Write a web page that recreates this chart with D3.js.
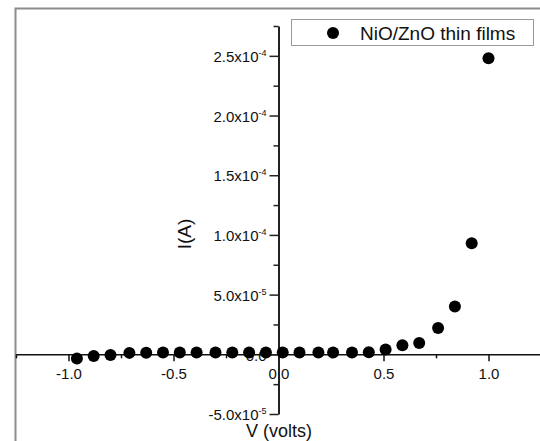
<!DOCTYPE html>
<html>
<head>
<meta charset="utf-8">
<script src="https://cdn.jsdelivr.net/npm/d3@7"></script>
<style>
  body { margin: 0; background: #fff; }
  svg { display: block; font-family: "Liberation Sans", Arial, sans-serif; }
</style>
</head>
<body>
<div id="chart"></div>
<script>
// I-V data
var voltage = [-0.96, -0.88, -0.80, -0.71, -0.63, -0.55, -0.47, -0.39, -0.30, -0.22, -0.14, -0.06,
               0.02, 0.10, 0.19, 0.26, 0.35, 0.43, 0.51, 0.59, 0.67, 0.76, 0.84, 0.92, 1.00];
var current = [-3.5e-6, -1.5e-6, -0.5e-6, 1.2e-6, 1.4e-6, 1.5e-6, 1.5e-6, 1.5e-6, 1.5e-6, 1.5e-6, 1.5e-6, 1.5e-6,
               1.5e-6, 1.5e-6, 1.5e-6, 1.5e-6, 1.5e-6, 1.8e-6, 4.0e-6, 7.5e-6, 9.5e-6, 2.2e-5, 4.0e-5, 9.3e-5, 2.48e-4];

var xTicks = [-1, -0.5, 0, 0.5, 1];
var xTickLabels = ["-1.0", "-0.5", "0.0", "0.5", "1.0"];
var yTicks = [-5e-5, 0, 5e-5, 1e-4, 1.5e-4, 2e-4, 2.5e-4];
var yTickMantissa = ["-5.0", "0.0", "5.0", "1.0", "1.5", "2.0", "2.5"];
var yTickExponent = ["-5", "", "-5", "-4", "-4", "-4", "-4"];
var seriesName = "NiO/ZnO thin films";

var width = 540, height = 441;

var x = d3.scaleLinear().domain([-1.25, 1.25]).range([16, 541]);
var y = d3.scaleLinear().domain([-5e-5, 2.75e-4]).range([414, 26]);

var svg = d3.select('#chart').append('svg')
    .attr('width', width)
    .attr('height', height);

// layer frame
svg.append('rect')
    .attr('x', 15.5).attr('y', 8.5)
    .attr('width', 600).attr('height', 600)
    .attr('fill', 'none')
    .attr('stroke', '#8c8c8c')
    .attr('stroke-width', 2);

// x axis through y = 0
var xMinor = d3.range(-1.25, 1.26, 0.25).filter(function(d) {
  return Math.abs(d * 2 - Math.round(d * 2)) > 1e-6;
});

var xAxisG = svg.append('g').attr('transform', 'translate(0,' + y(0) + ')');
xAxisG.call(d3.axisBottom(x).tickValues(xTicks).tickSize(7).tickSizeOuter(0).tickPadding(7)
    .tickFormat(function(d, i) { return xTickLabels[i]; }));
var xMinorG = svg.append('g').attr('transform', 'translate(0,' + y(0) + ')');
xMinorG.call(d3.axisBottom(x).tickValues(xMinor).tickSize(4).tickFormat(''));
xMinorG.select('.domain').remove();

[xAxisG, xMinorG].forEach(function(g) {
  g.select('.domain').attr('stroke', '#111').attr('stroke-width', 1.5);
  g.selectAll('line').attr('stroke', '#111').attr('stroke-width', 1.5);
});
xAxisG.selectAll('text').attr('font-size', 15).attr('fill', '#111')
    .attr('font-family', '"Liberation Sans", Arial, sans-serif');

// y axis through x = 0
var yMinor = yTicks.map(function(d) { return d + 2.5e-5; });

var yAxisG = svg.append('g').attr('transform', 'translate(' + x(0) + ',0)');
yAxisG.call(d3.axisLeft(y).tickValues(yTicks).tickSize(9).tickSizeOuter(0).tickPadding(3)
    .tickFormat(function() { return ''; }));
var yMinorG = svg.append('g').attr('transform', 'translate(' + x(0) + ',0)');
yMinorG.call(d3.axisLeft(y).tickValues(yMinor).tickSize(5).tickFormat(''));
yMinorG.select('.domain').remove();

[yAxisG, yMinorG].forEach(function(g) {
  g.select('.domain').attr('stroke', '#222').attr('stroke-width', 2);
  g.selectAll('line').attr('stroke', '#222').attr('stroke-width', 1.5);
});

yAxisG.selectAll('.tick text').each(function(d, i) {
  var t = d3.select(this)
      .attr('font-size', 15)
      .attr('fill', '#111')
      .attr('font-family', '"Liberation Sans", Arial, sans-serif')
      .attr('dy', '0.38em');
  t.append('tspan').text(yTickMantissa[i] + (yTickExponent[i] ? 'x10' : ''));
  if (yTickExponent[i]) {
    t.append('tspan').attr('font-size', 9).attr('dy', -6).text(yTickExponent[i]);
  }
});

// axis titles
svg.append('text')
    .attr('transform', 'translate(184,234) rotate(-90)')
    .attr('text-anchor', 'middle')
    .attr('dy', '0.35em')
    .attr('font-size', 19)
    .attr('fill', '#111')
    .text('I(A)');

svg.append('text')
    .attr('x', 279).attr('y', 437)
    .attr('text-anchor', 'middle')
    .attr('font-size', 18)
    .attr('fill', '#111')
    .text('V (volts)');

// points
svg.append('g').selectAll('circle')
    .data(voltage)
    .enter().append('circle')
    .attr('cx', function(d) { return x(d); })
    .attr('cy', function(d, i) { return y(current[i]); })
    .attr('r', 6)
    .attr('fill', '#000');

// legend
var legend = svg.append('g');
legend.append('rect')
    .attr('x', 291.5).attr('y', 19.5)
    .attr('width', 242).attr('height', 26)
    .attr('fill', '#fff')
    .attr('stroke', '#999')
    .attr('stroke-width', 1);
legend.append('circle')
    .attr('cx', 333).attr('cy', 33)
    .attr('r', 6)
    .attr('fill', '#000');
legend.append('text')
    .attr('x', 360).attr('y', 33)
    .attr('dy', '0.35em')
    .attr('font-size', 19)
    .attr('fill', '#111')
    .text(seriesName);
</script>
</body>
</html>
